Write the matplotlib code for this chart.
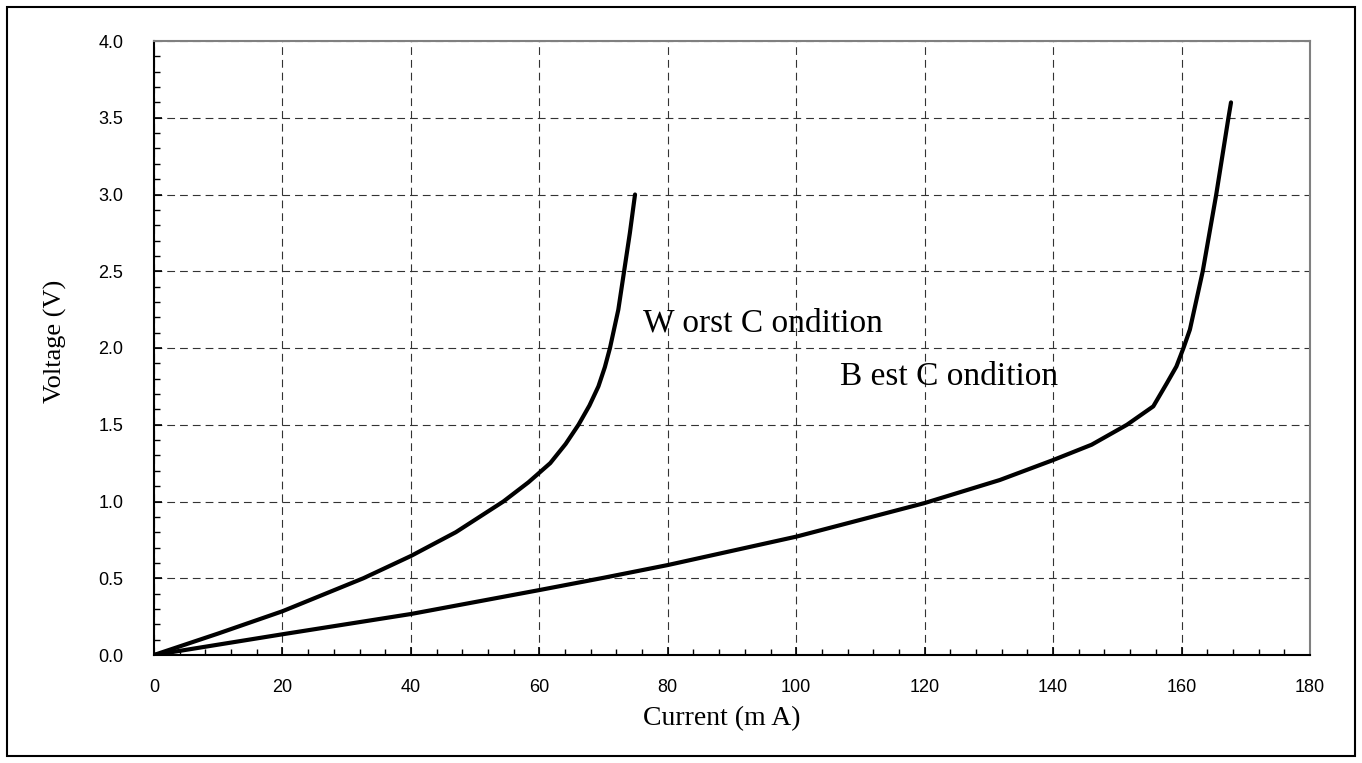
import matplotlib
matplotlib.use("Agg")
import matplotlib.pyplot as plt
from matplotlib.patches import Rectangle
from matplotlib.ticker import MultipleLocator, FormatStrFormatter

# curve readings (current in mA, voltage in V)
worst_i = [0, 10, 20, 32.6, 40, 47, 54.4, 58.3, 61.7, 64.1, 66.1, 67.8, 69.2, 70.2, 71.0, 72.3, 73.2, 74.1, 74.9]
worst_v = [0, 0.14, 0.285, 0.5, 0.645, 0.8, 1.0, 1.125, 1.25, 1.375, 1.5, 1.625, 1.75, 1.875, 2.0, 2.25, 2.5, 2.75, 3.0]

best_i = [0, 20, 40, 60, 70, 80, 100, 120, 131.7, 140, 146, 151.5, 155.6, 157.7, 159.2, 160.3, 161.3, 163.3, 165.4, 167.3, 167.7]
best_v = [0, 0.135, 0.267, 0.423, 0.503, 0.586, 0.771, 0.99, 1.14, 1.27, 1.37, 1.5, 1.62, 1.77, 1.88, 2.0, 2.12, 2.5, 3.0, 3.5, 3.6]

labels = ["W orst C ondition", "B est C ondition"]
label_pos = [(76.1, 2.16), (106.8, 1.81)]

fig = plt.figure(figsize=(13.62, 7.63), dpi=100)
ax = fig.add_axes([154 / 1362, 1 - 655 / 763, (1310 - 154) / 1362, (655 - 41) / 763])

ax.plot(worst_i, worst_v, color="black", lw=3, solid_capstyle="round", solid_joinstyle="round")
ax.plot(best_i, best_v, color="black", lw=3, solid_capstyle="round", solid_joinstyle="round")

ax.set_xlim(0, 180)
ax.set_ylim(0, 4.0)
ax.xaxis.set_major_locator(MultipleLocator(20))
ax.xaxis.set_minor_locator(MultipleLocator(4))
ax.yaxis.set_major_locator(MultipleLocator(0.5))
ax.yaxis.set_minor_locator(MultipleLocator(0.1))
ax.yaxis.set_major_formatter(FormatStrFormatter("%.1f"))

ax.grid(True, which="major", linestyle=(0, (7, 4.5)), linewidth=0.8, color="#333333")
ax.tick_params(which="both", direction="in", top=False, right=False, labelsize=13)
ax.tick_params(which="major", length=6, width=1.2)
ax.tick_params(which="minor", length=4.5, width=1.0)
ax.tick_params(axis="x", which="major", pad=17)
ax.tick_params(axis="y", which="major", pad=22)
for t in ax.get_xticklabels() + ax.get_yticklabels():
    t.set_fontfamily("Liberation Sans")

for s in ["left", "bottom"]:
    ax.spines[s].set_color("black")
    ax.spines[s].set_linewidth(1.5)
for s in ["top", "right"]:
    ax.spines[s].set_color("#808080")
    ax.spines[s].set_linewidth(1.5)

ax.set_xlabel("Current (m A)", fontfamily="Liberation Serif", fontsize=20)
ax.set_ylabel("Voltage (V)", fontfamily="Liberation Serif", fontsize=19)
ax.xaxis.set_label_coords(0.491, -0.083)
ax.yaxis.set_label_coords(-0.075, 0.51)

for txt, (x, y) in zip(labels, label_pos):
    ax.text(x, y, txt, fontfamily="Liberation Serif", fontsize=24, va="center", ha="left")

# border round the whole figure
fig.patches.append(Rectangle((7 / 1362, 7 / 763), 1348 / 1362, 749 / 763, transform=fig.transFigure,
                             fill=False, edgecolor="black", linewidth=1.5))

fig.savefig("out.png", dpi=100)
